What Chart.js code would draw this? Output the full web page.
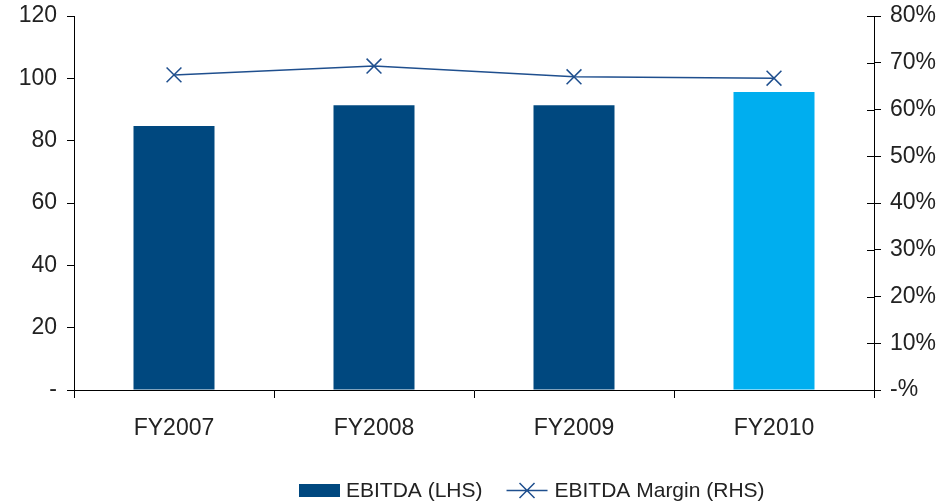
<!DOCTYPE html>
<html>
<head>
<meta charset="utf-8">
<script src="https://cdn.jsdelivr.net/npm/chart.js@4/dist/chart.umd.min.js"></script>
<style>
  html, body { margin: 0; padding: 0; background: #fff; }
  #wrap { width: 951px; height: 502px; }
</style>
</head>
<body>
<div id="wrap"><canvas id="c" width="951" height="502"></canvas></div>
<script>
// EBITDA by fiscal year (left axis) and EBITDA margin in % (right axis)
const categories = ['FY2007', 'FY2008', 'FY2009', 'FY2010'];
const ebitda = [84.7, 91.4, 91.4, 95.6];
const ebitdaMargin = [67.4, 69.3, 67.0, 66.7];
const leftTicks = [0, 20, 40, 60, 80, 100, 120];
const rightTicks = [0, 10, 20, 30, 40, 50, 60, 70, 80];
const seriesNames = ['EBITDA (LHS)', 'EBITDA Margin (RHS)'];

const DARK = '#00487f';
const LIGHT = '#00aeef';
const LINE = '#1f4f8e';
const TEXT = '#222';
const FONT = '"Liberation Sans", Arial, Helvetica, sans-serif';

// the final year is highlighted in the lighter blue
const barColors = ebitda.map((v, i) => i === ebitda.length - 1 ? LIGHT : DARK);

// right-axis tick marks cross the axis line: draw the inner half here
const crossTicks = {
  id: 'crossTicks',
  afterDatasetsDraw(chart) {
    const s = chart.scales.y1;
    const ctx = chart.ctx;
    ctx.save();
    ctx.strokeStyle = '#000';
    ctx.lineWidth = 1;
    ctx.beginPath();
    s.ticks.forEach((t, i) => {
      const y = Math.round(s.getPixelForTick(i)) + 0.5;
      ctx.moveTo(s.left - 7, y);
      ctx.lineTo(s.left, y);
    });
    ctx.stroke();
    ctx.restore();
  }
};

// legend drawn under the axis labels: bar series first, then the line series
const bottomLegend = {
  id: 'bottomLegend',
  afterDraw(chart) {
    const ctx = chart.ctx;
    const area = chart.chartArea;
    const ds = chart.data.datasets;
    const barDs = ds.find(d => d.type === 'bar');
    const lineDs = ds.find(d => d.type === 'line');
    ctx.save();
    ctx.font = '21px ' + FONT;
    const sw = 41, gapText = 6, gapItem = 24;
    const w0 = ctx.measureText(barDs.label).width;
    const w1 = ctx.measureText(lineDs.label).width;
    const total = sw + gapText + w0 + gapItem + sw + gapText + w1;
    let x = Math.round((area.left + area.right) / 2 + 57 - total / 2);
    const cy = 490.5;

    // bar swatch
    ctx.fillStyle = DARK;
    ctx.fillRect(x, cy - 6.5, sw, 13);
    x += sw + gapText;
    ctx.fillStyle = TEXT;
    ctx.textBaseline = 'middle';
    ctx.textAlign = 'left';
    ctx.fillText(barDs.label, x, cy + 1);
    x += w0 + gapItem;

    // line swatch with cross marker
    ctx.strokeStyle = LINE;
    ctx.lineWidth = 1.5;
    ctx.beginPath();
    ctx.moveTo(x, cy);
    ctx.lineTo(x + sw, cy);
    const mx = x + sw / 2, r = 7.5;
    ctx.moveTo(mx - r, cy - r); ctx.lineTo(mx + r, cy + r);
    ctx.moveTo(mx + r, cy - r); ctx.lineTo(mx - r, cy + r);
    ctx.stroke();
    x += sw + gapText + 1;
    ctx.fillText(lineDs.label, x, cy + 1);
    ctx.restore();
  }
};

// vertical axes keep fixed widths and do not reserve extra room for end labels
const fitY = width => s => {
  s.width = width;
  s.paddingTop = 0;
  s.paddingBottom = 0;
};

new Chart(document.getElementById('c'), {
  type: 'bar',
  data: {
    labels: categories,
    datasets: [
      {
        type: 'line',
        label: seriesNames[1],
        data: ebitdaMargin,
        yAxisID: 'y1',
        borderColor: LINE,
        borderWidth: 1.5,
        backgroundColor: LINE,
        pointStyle: 'crossRot',
        pointRadius: 10.5,
        pointBorderWidth: 1.5,
        pointBorderColor: LINE,
        tension: 0,
        fill: false,
        clip: false,
        order: 0
      },
      {
        type: 'bar',
        label: seriesNames[0],
        data: ebitda,
        yAxisID: 'y',
        backgroundColor: barColors,
        borderWidth: 0,
        categoryPercentage: 1,
        barPercentage: 0.405,
        order: 1
      }
    ]
  },
  plugins: [crossTicks, bottomLegend],
  options: {
    responsive: false,
    animation: false,
    devicePixelRatio: 1,
    layout: { padding: { top: 16, bottom: 62, left: 0, right: 0 } },
    plugins: {
      legend: { display: false },
      tooltip: { enabled: false },
      title: { display: false }
    },
    scales: {
      x: {
        offset: true,
        grid: { offset: true, drawOnChartArea: false, drawTicks: true, tickLength: 8, color: '#000', lineWidth: 1 },
        border: { display: true, color: '#000', width: 1 },
        ticks: { color: TEXT, font: { family: FONT, size: 23 }, padding: 17, maxRotation: 0 },
        afterFit(s) { s.height = 50; s.paddingLeft = 0; s.paddingRight = 0; }
      },
      y: {
        position: 'left',
        min: 0,
        max: 120,
        afterBuildTicks(s) { s.ticks = leftTicks.map(v => ({ value: v })); },
        grid: { drawOnChartArea: false, drawTicks: true, tickLength: 7, color: '#000', lineWidth: 1 },
        border: { display: true, color: '#000', width: 1 },
        ticks: {
          color: TEXT,
          font: { family: FONT, size: 23 },
          padding: 10,
          callback: v => v === 0 ? '-' : String(v)
        },
        afterFit: fitY(74)
      },
      y1: {
        position: 'right',
        min: 0,
        max: 80,
        afterBuildTicks(s) { s.ticks = rightTicks.map(v => ({ value: v })); },
        grid: { drawOnChartArea: false, drawTicks: true, tickLength: 7, color: '#000', lineWidth: 1 },
        border: { display: true, color: '#000', width: 1 },
        ticks: {
          color: TEXT,
          font: { family: FONT, size: 23 },
          padding: 9,
          callback: v => (v === 0 ? '-' : String(v)) + '%'
        },
        afterFit: fitY(77)
      }
    }
  }
});
</script>
</body>
</html>
